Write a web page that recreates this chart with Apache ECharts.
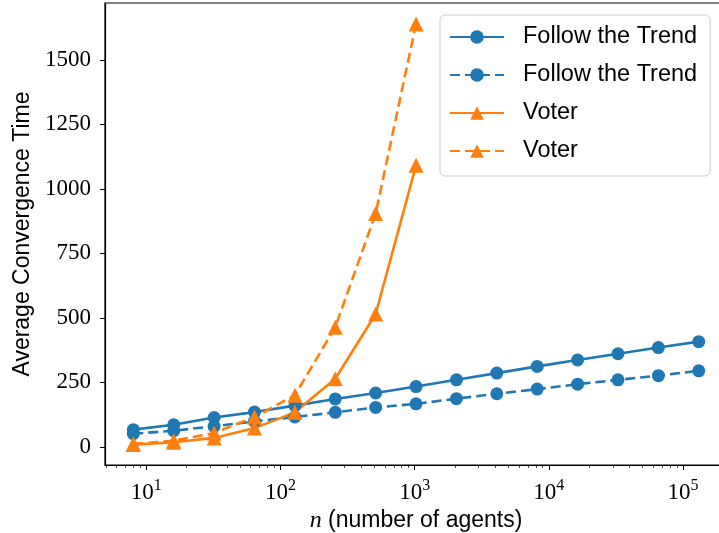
<!DOCTYPE html>
<html><head><meta charset="utf-8">
<script src="https://cdn.jsdelivr.net/npm/echarts@6/dist/echarts.min.js"></script>
<style>html,body{margin:0;padding:0;background:#fff}#c{width:719px;height:533px}</style>
</head><body><div id="c"></div>
<script>
const nAgents = [8,16,32,64,128,256,512,1024,2048,4096,8192,16384,32768,65536,131072];
const fttSolid = [67,86,114,135,160,186,209,234,260,286,312,337,361,385,408];
const fttDashed = [51,63,80,99,116,134,153,167,187,206,224,243,260,276,295];
const voterN = [8,16,32,64,128,256,512,1024];
const voterSolid = [9,18,35,73,134,264,515,1091];
const voterDashed = [12,24,54,116,200,464,904,1639];
const yTicks = [0,250,500,750,1000,1250,1500];
const xTicks = [10,100,1000,10000,100000];
const xMinorTicks = [];
for (let k = 0; k <= 5; k++) for (let m = 2; m <= 9; m++) { const v = m * Math.pow(10, k); if (v > 4.9 && v < 212000) xMinorTicks.push(v); }

const BLUE = '#1f77b4', ORANGE = '#ff7f0e';
const XMIN = 4.92, XMAX = 212800, YMIN = -70, YMAX = 1720;
const pairs = (xs, ys) => xs.map((x, i) => [x, ys[i]]);
const serifFont = '"Liberation Serif", "DejaVu Serif", serif';
const sansFont = '"Liberation Sans", "DejaVu Sans", sans-serif';

const chart = echarts.init(document.getElementById('c'), null, {renderer: 'canvas'});
function lineSeries(name, xs, ys, color, dashed, symbol, size) {
  return {
    name, type: 'line', data: pairs(xs, ys), symbol, symbolSize: size, showSymbol: true,
    lineStyle: {color, width: 2.6, type: dashed ? [10, 5] : 'solid'},
    itemStyle: {color}, animation: false, xAxisIndex: 0, yAxisIndex: 0
  };
}
chart.setOption({
  animation: false,
  grid: {left: 105, top: 3, right: -8, bottom: 68, show: true, borderColor: '#000', borderWidth: 1.2, backgroundColor: 'transparent', outerBoundsMode: 'none', containLabel: false},
  legend: {
    orient: 'vertical', left: 440, top: 15,
    data: ['Follow the Trend', 'Follow the Trend\u200b', 'Voter', 'Voter\u200b'],
    backgroundColor: 'rgba(255,255,255,0.85)', borderColor: '#cccccc', borderWidth: 1, borderRadius: 5,
    padding: [9, 13, 12, 9], itemWidth: 54, itemHeight: 17, itemGap: 12,
    textStyle: {fontFamily: sansFont, fontSize: 23.5, color: '#000', lineHeight: 26, padding: [0, 0, 0, 14]}
  },
  xAxis: [{
    type: 'log', logBase: 10, min: XMIN, max: XMAX, position: 'bottom',
    name: '{i|n} (number of agents)', nameLocation: 'middle', nameGap: 43,
    nameTextStyle: {fontFamily: sansFont, fontSize: 23, color: '#000',
      rich: {i: {fontFamily: serifFont, fontStyle: 'italic', fontSize: 24, color: '#000'}}},
    axisLine: {show: true, onZero: false, lineStyle: {color: '#000', width: 1.2}},
    axisTick: {show: true, inside: false, length: 5, lineStyle: {color: '#000', width: 1}, customValues: xTicks},
    axisLabel: {show: true, margin: 13, customValues: xTicks, color: '#000',
      formatter: v => '{b|10}{s|' + Math.round(Math.log10(v)) + '}',
      rich: {b: {fontFamily: serifFont, fontSize: 23, color: '#000', verticalAlign: 'bottom'},
             s: {fontFamily: serifFont, fontSize: 16, color: '#000', verticalAlign: 'bottom', padding: [0, 0, 10, 0]}}},
    splitLine: {show: false}, minorTick: {show: false}
  }, {
    type: 'log', logBase: 10, min: XMIN, max: XMAX, position: 'bottom',
    axisLine: {show: false, onZero: false}, axisLabel: {show: false}, splitLine: {show: false},
    axisTick: {show: true, inside: false, length: 2.8, lineStyle: {color: '#000', width: 0.8}, customValues: xMinorTicks}
  }],
  yAxis: {
    type: 'value', min: YMIN, max: YMAX,
    name: 'Average Convergence Time', nameLocation: 'middle', nameGap: 71, nameRotate: 90,
    nameTextStyle: {fontFamily: sansFont, fontSize: 23, color: '#000'},
    axisLine: {show: true, onZero: false, lineStyle: {color: '#000', width: 1.2}},
    axisTick: {show: true, inside: false, length: 5, lineStyle: {color: '#000', width: 1}, customValues: yTicks},
    axisLabel: {show: true, margin: 14, customValues: yTicks, fontFamily: serifFont, fontSize: 23, color: '#000',
      formatter: v => String(v)},
    splitLine: {show: false}
  },
  series: [
    lineSeries('Follow the Trend', nAgents, fttSolid, BLUE, false, 'circle', 13),
    lineSeries('Follow the Trend\u200b', nAgents, fttDashed, BLUE, true, 'circle', 13),
    lineSeries('Voter', voterN, voterSolid, ORANGE, false, 'triangle', 15),
    lineSeries('Voter\u200b', voterN, voterDashed, ORANGE, true, 'triangle', 15)
  ]
});
</script></body></html>
